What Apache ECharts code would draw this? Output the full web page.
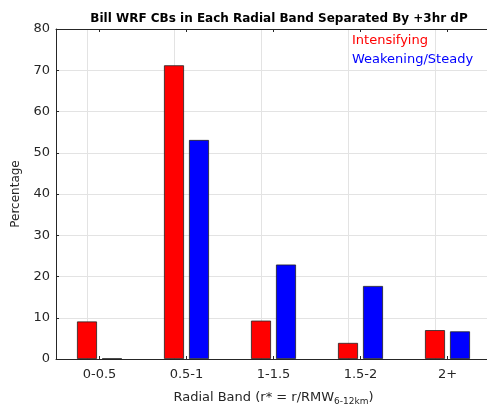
<!DOCTYPE html>
<html>
<head>
<meta charset="utf-8">
<script src="https://cdn.jsdelivr.net/npm/echarts@6/dist/echarts.min.js"></script>
<style>
  html, body { margin: 0; padding: 0; background: #fff; }
  #chart { width: 487px; height: 411px; }
</style>
</head>
<body>
<div id="chart"></div>
<script>
// Radial bands (r* = r / RMW at 6-12 km)
const categories = ['0-0.5', '0.5-1', '1-1.5', '1.5-2', '2+'];
// Percentage of convective bursts per band, split by 3-hour pressure change
const intensifying = [9.1, 71.2, 9.3, 3.9, 7.0];
const weakeningSteady = [0.1, 53.1, 22.9, 17.7, 6.7];
const yTicks = { min: 0, max: 80, interval: 10 };

const FONT = 'DejaVu Sans';
const axisGray = '#262626';
const gridGray = '#e3e3e3';

const chart = echarts.init(document.getElementById('chart'), null, { renderer: 'canvas' });

const barBase = {
  type: 'bar',
  barWidth: 20,
  barGap: '25%',
  itemStyle: { borderColor: '#222', borderWidth: 0.8 }
};

const tickStyle = { show: true, inside: true, length: 3, alignWithLabel: true, lineStyle: { color: axisGray } };

chart.setOption({
  animation: false,
  backgroundColor: '#fff',
  textStyle: { fontFamily: FONT },
  title: {
    text: 'Bill WRF CBs in Each Radial Band Separated By +3hr dP',
    left: 274,
    textAlign: 'center',
    top: 8,
    textStyle: { fontFamily: FONT, fontSize: 12, fontWeight: 'bold', color: '#000' }
  },
  legend: {
    orient: 'vertical',
    left: 342,
    top: 29,
    icon: 'none',
    itemWidth: 0,
    itemHeight: 10,
    itemGap: 6,
    textStyle: { fontFamily: FONT, fontSize: 13 },
    data: [
      { name: 'Intensifying', textStyle: { color: '#ff0000' } },
      { name: 'Weakening/Steady', textStyle: { color: '#0000ff' } }
    ]
  },
  grid: { left: 56, right: -4, top: 29, bottom: 52, containLabel: false, outerBoundsMode: 'none' },
  xAxis: [
    {
      type: 'category',
      data: categories,
      position: 'bottom',
      name: '{a|Radial Band (r* = r/RMW}{s|6-12km}{a|)}',
      nameLocation: 'middle',
      nameGap: 30,
      nameTextStyle: {
        rich: {
          a: { fontFamily: FONT, fontSize: 13, color: axisGray },
          s: { fontFamily: FONT, fontSize: 9, color: axisGray, verticalAlign: 'bottom', padding: [8, 0, 0, 0] }
        }
      },
      axisLine: { lineStyle: { color: axisGray, width: 1 } },
      axisTick: tickStyle,
      axisLabel: { fontFamily: FONT, fontSize: 13, color: axisGray, margin: 9 },
      splitLine: { show: false }
    },
    {
      type: 'category',
      data: categories,
      position: 'top',
      axisLine: { lineStyle: { color: axisGray, width: 1 } },
      axisTick: tickStyle,
      axisLabel: { show: false },
      splitLine: { show: false }
    }
  ],
  yAxis: {
    type: 'value',
    min: yTicks.min,
    max: yTicks.max,
    interval: yTicks.interval,
    name: 'Percentage',
    nameLocation: 'middle',
    nameGap: 34,
    nameTextStyle: { fontFamily: FONT, fontSize: 12, color: axisGray },
    axisLine: { show: true, lineStyle: { color: axisGray, width: 1 } },
    axisTick: { show: true, inside: true, length: 3, lineStyle: { color: axisGray } },
    axisLabel: { fontFamily: FONT, fontSize: 13, color: axisGray, margin: 6 },
    splitLine: { show: true, lineStyle: { color: gridGray, width: 1 } }
  },
  series: [
    Object.assign({}, barBase, {
      name: 'Intensifying',
      data: intensifying,
      itemStyle: Object.assign({}, barBase.itemStyle, { color: '#ff0000' }),
      // vertical grid lines through each category centre
      markLine: {
        silent: true,
        symbol: 'none',
        z: 0,
        label: { show: false },
        lineStyle: { color: gridGray, type: 'solid', width: 1 },
        data: categories.map(c => ({ xAxis: c }))
      }
    }),
    Object.assign({}, barBase, {
      name: 'Weakening/Steady',
      data: weakeningSteady,
      itemStyle: Object.assign({}, barBase.itemStyle, { color: '#0000ff' })
    })
  ]
});
</script>
</body>
</html>
